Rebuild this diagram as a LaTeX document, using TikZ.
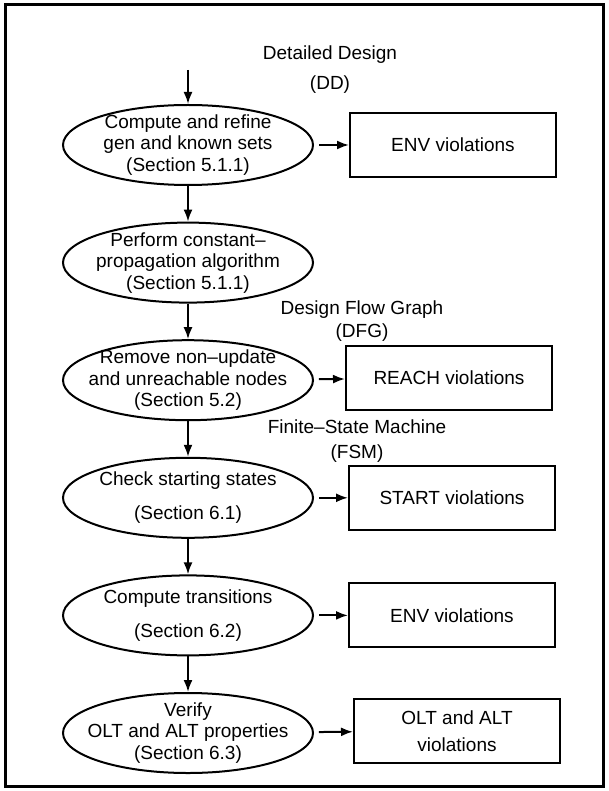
\documentclass[tikz,border=0pt]{standalone}
\usepackage{fontspec}
\setmainfont{Liberation Sans}
\usetikzlibrary{arrows.meta,shapes.geometric}

\begin{document}
\begin{tikzpicture}[x=1pt, y=-1pt, >={Latex[length=12pt,width=9pt]}, line width=2pt,
    node distance=117.6pt, font=\fontsize{19}{21.5}\selectfont,
    proc/.style={ellipse, draw, minimum width=250pt, minimum height=80pt,
                 inner xsep=-40pt, inner ysep=-10pt, align=center},
    viol/.style={rectangle, draw, minimum width=206pt, minimum height=64pt, align=center},
    note/.style={align=center}]
    \useasboundingbox (0,0) rectangle (609,791);
    \draw [line width=2.5pt] (5.5,4.5) rectangle (603.5,786.5);

    % Steps {e1, e2, ..., e6}
    \node [proc]    (e1) at (188,145)   {Compute and refine\\gen and known sets\\(Section 5.1.1)};
    \node [proc]    (e2) [below of=e1]  {Perform constant–\\propagation algorithm\\(Section 5.1.1)};
    \node [proc]    (e3) [below of=e2]  {Remove non–update\\and unreachable nodes\\(Section 5.2)};
    \node [proc]    (e4) [below of=e3]  {Check starting states\\[12.5pt](Section 6.1)};
    \node [proc]    (e5) [below of=e4]  {Compute transitions\\[12.5pt](Section 6.2)};
    \node [proc]    (e6) [below of=e5]  {Verify\\OLT and ALT properties\\(Section 6.3)};

    % Violations {v1, v2, ..., v6}
    \node [viol]    (v1) [right of=e1, node distance=265pt]              {ENV violations};
    \node [viol]    (v3) [right of=e3, node distance=261pt, yshift=2pt]  {REACH violations};
    \node [viol]    (v4) [right of=e4, node distance=264pt]              {START violations};
    \node [viol]    (v5) [right of=e5, node distance=264pt]              {ENV violations};
    \node [viol]    (v6) [right of=e6, node distance=269pt, yshift=2pt]  {OLT and ALT\\[5pt]violations};

    % Models
    \node [note]    (dd)  [above of=e1, node distance=75pt, xshift=142pt]    {Detailed Design\\[8.5pt](DD)};
    \node [note]    (dfg) [below of=e2, node distance=58pt, xshift=174pt]    {Design Flow Graph\\[1.5pt](DFG)};
    \node [note]    (fsm) [below of=e3, node distance=61pt, xshift=169pt]    {Finite–State Machine\\[3.5pt](FSM)};
    \node [coordinate] (in) [above of=e1, node distance=75pt] {};

    % Paths
    \path [->]  (in) edge   (e1);
    \path [->]  (e1) edge   (e2);
    \path [->]  (e2) edge   (e3);
    \path [->]  (e3) edge   (e4);
    \path [->]  (e4) edge   (e5);
    \path [->]  (e5) edge   (e6);
    \path [->, shorten <=5pt]   (e1) edge   (v1);
    \path [->, shorten <=5pt]   (e3) edge   (v3);
    \path [->, shorten <=5pt]   (e4) edge   (v4);
    \path [->, shorten <=5pt]   (e5) edge   (v5);
    \path [->, shorten <=5pt]   (e6) edge   (v6);
\end{tikzpicture}
\end{document}
